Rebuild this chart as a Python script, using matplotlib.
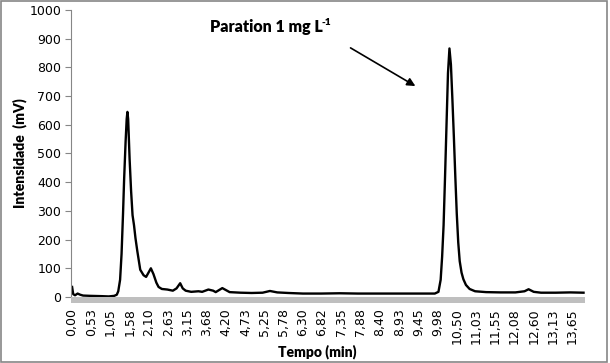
import matplotlib.pyplot as plt
from matplotlib.patches import Rectangle

# chromatogram (time in min, intensity in mV)
tempo = [0.00, 0.03, 0.08, 0.15, 0.22, 0.30, 0.50, 0.80, 1.00, 1.15, 1.22,
         1.26, 1.31, 1.35, 1.39, 1.42, 1.46, 1.49, 1.51, 1.53, 1.57, 1.61,
         1.65, 1.69, 1.73, 1.78, 1.86, 1.95, 2.02, 2.09, 2.15, 2.22, 2.30,
         2.36, 2.45, 2.60, 2.75, 2.85, 2.95, 3.02, 3.10, 3.25, 3.45, 3.55,
         3.72, 3.85, 3.92, 4.10, 4.30, 4.60, 4.90, 5.20, 5.40, 5.60, 5.90,
         6.30, 6.80, 7.30, 7.80, 8.30, 8.80, 9.30, 9.70, 9.90, 10.00, 10.06,
         10.10, 10.14, 10.18, 10.22, 10.26, 10.30, 10.34, 10.38, 10.42,
         10.46, 10.50, 10.54, 10.58, 10.63, 10.68, 10.75, 10.85, 11.00,
         11.30, 11.70, 12.10, 12.35, 12.46, 12.60, 12.80, 13.20, 13.60, 13.96]
intensidade = [35, 10, 6, 12, 8, 5, 4, 3, 2, 4, 8,
               20, 60, 150, 290, 410, 540, 620, 645, 620, 480, 370,
               285, 250, 205, 160, 95, 76, 70, 86, 100, 80, 50,
               35, 28, 26, 22, 30, 48, 30, 22, 18, 20, 18,
               26, 22, 17, 31, 17, 15, 14, 15, 21, 16, 14,
               12, 12, 13, 12, 12, 12, 12, 12, 12, 18, 60,
               140, 250, 420, 600, 780, 866, 810, 690, 560,
               420, 290, 190, 125, 85, 62, 42, 28, 20,
               17, 16, 16, 20, 27, 18, 15, 15, 16, 15]

tick_labels = ['0,00', '0,53', '1,05', '1,58', '2,10', '2,63', '3,15', '3,68',
               '4,20', '4,73', '5,25', '5,78', '6,30', '6,82', '7,35', '7,88',
               '8,40', '8,93', '9,45', '9,98', '10,50', '11,03', '11,55',
               '12,08', '12,60', '13,13', '13,65']
y_ticks = [0, 100, 200, 300, 400, 500, 600, 700, 800, 900, 1000]

fig = plt.figure(figsize=(6.1, 3.63), dpi=100)
ax = fig.add_axes([71 / 610, 66 / 363, 514 / 610, 287 / 363])

ax.plot(tempo, intensidade, color='black', lw=1.7, solid_joinstyle='round')

ax.set_xlim(-0.03, 14.0)
ax.set_ylim(0, 1000)
ax.set_yticks(y_ticks)
ax.set_xticks([float(s.replace(',', '.')) for s in tick_labels])
ax.set_xticklabels(tick_labels, rotation=90)
ax.tick_params(axis='x', length=0, pad=8, labelsize=9)
ax.tick_params(axis='y', length=4, color='#868686', labelsize=9, pad=3)

for side in ['top', 'right', 'bottom']:
    ax.spines[side].set_visible(False)
ax.spines['left'].set_color('#868686')

# grey floor strip under the plot
fig.patches.append(Rectangle((71 / 610, 60 / 363), 514 / 610, 6 / 363,
                             transform=fig.transFigure, color='#bfbfbf', lw=0))

ax.set_xlabel('Tempo (min)', fontsize=10, fontweight='heavy', family='Lato')
ax.xaxis.set_label_coords(0.48, -0.165)
ax.set_ylabel('Intensidade  (mV)', fontsize=10, fontweight='heavy', family='Lato')
ax.yaxis.set_label_coords(-0.085, 0.5)

title = ax.text(3.77, 940, 'Paration 1 mg L', fontsize=11.5, fontweight='heavy',
                family='Lato', va='center')
fig.canvas.draw()
bb = title.get_window_extent()
fig.text((bb.x1 - 1.5) / 610, (bb.y1 + 1) / 363, '-1', fontsize=7.5,
         fontweight='heavy', family='Lato', va='top')

ax.annotate('', xy=(9.37, 735), xytext=(7.6, 868),
            arrowprops=dict(arrowstyle='-|>', color='black', lw=1.2,
                            mutation_scale=12, shrinkA=0, shrinkB=0))

# chart border
fig.patches.append(Rectangle((0.5 / 610, 1.5 / 363), 606 / 610, 361 / 363,
                             transform=fig.transFigure, fill=False,
                             edgecolor='#868686', lw=1.2))

fig.savefig('out.png', dpi=100)
